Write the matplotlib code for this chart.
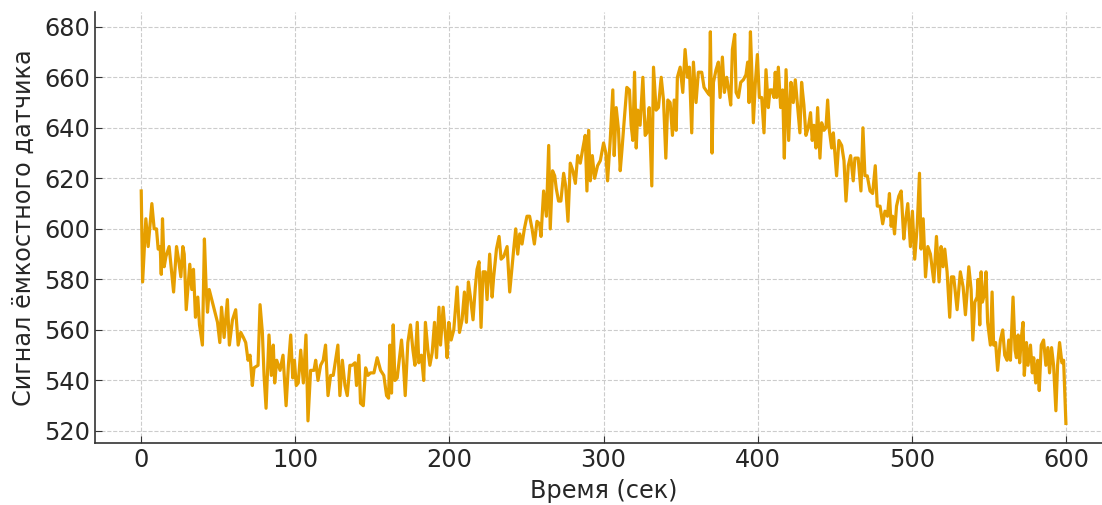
import matplotlib
matplotlib.use("Agg")
import matplotlib.pyplot as plt

# время (сек) и сигнал
time_sec = [
    0.0, 0.9, 3.0, 4.5, 6.9, 8.4, 9.9, 11.0, 12.3, 13.0, 13.8, 14.9, 16.0, 18.1,
    21.0, 22.9, 24.2, 25.7, 27.0, 27.9, 29.2, 31.5, 32.8, 33.9, 35.2, 36.7, 37.8,
    39.7, 41.0, 42.1, 43.0, 44.1, 46.2, 49.5, 51.0, 52.1, 53.8, 55.9, 57.2, 59.2,
    61.3, 62.9, 64.6, 66.3, 67.8, 69.3, 70.6, 72.1, 73.2, 75.8, 77.1, 78.6, 79.7,
    81.0, 82.9, 84.4, 85.7, 86.6, 87.9, 90.1, 92.0, 94.0, 95.5, 97.0, 98.3, 99.4,
    100.6, 101.9, 103.5, 105.2, 106.9, 108.2, 109.9, 112.1, 113.2, 114.7, 116.4,
    118.1, 119.6, 121.2, 122.9, 124.6, 126.1, 127.6, 128.9, 130.5, 132.2, 133.7,
    135.4, 136.9, 138.7, 139.7, 141.2, 142.3, 144.1, 145.6, 147.1, 148.8, 151.0,
    153.1, 155.3, 157.4, 159.2, 160.5, 161.3, 162.4, 163.5, 164.6, 166.1, 167.4,
    168.9, 170.0, 171.3, 173.0, 174.7, 176.3, 177.6, 179.1, 180.1, 181.8, 183.3,
    184.4, 186.0, 187.3, 188.8, 190.3, 191.6, 193.2, 194.2, 195.9, 197.4, 198.5,
    199.6, 201.1, 202.8, 205.0, 206.5, 208.2, 209.7, 211.0, 212.3, 213.6, 215.3,
    216.8, 217.9, 219.2, 220.5, 221.8, 223.3, 224.4, 226.1, 227.7, 228.7, 230.5,
    232.2, 233.5, 235.2, 237.4, 239.1, 241.7, 243.0, 244.3, 245.6, 247.1, 248.6,
    250.3, 252.0, 253.6, 255.1, 256.8, 258.5, 259.4, 261.1, 262.9, 264.4, 265.4,
    266.9, 268.3, 269.3, 270.8, 272.3, 274.1, 275.4, 276.9, 278.4, 280.1, 281.7,
    283.2, 284.9, 286.6, 288.1, 289.2, 290.3, 291.4, 292.7, 294.2, 296.1, 297.9,
    300.0, 301.5, 302.6, 304.3, 306.0, 306.9, 308.2, 309.7, 310.8, 311.9, 313.4,
    315.1, 316.8, 317.9, 319.0, 320.1, 321.2, 322.2, 323.7, 325.5, 327.0, 328.1,
    329.6, 331.3, 332.4, 334.1, 335.6, 337.4, 338.9, 340.4, 341.7, 343.2, 344.7,
    345.8, 347.1, 347.9, 349.7, 351.4, 352.9, 354.4, 355.7, 357.2, 358.3, 360.0,
    361.5, 362.6, 363.7, 365.2, 367.4, 368.7, 369.3, 370.4, 371.3, 373.0, 374.5,
    375.6, 377.1, 378.4, 379.9, 381.2, 382.5, 383.6, 385.1, 386.0, 387.5, 389.0,
    390.7, 392.4, 393.5, 394.4, 395.3, 396.1, 397.2, 398.5, 399.8, 401.1, 402.6,
    404.1, 405.4, 406.9, 408.0, 409.3, 410.6, 411.4, 412.3, 413.4, 414.9, 416.2,
    417.3, 418.4, 420.1, 421.6, 423.1, 424.4, 425.7, 427.4, 428.5, 430.0, 431.3,
    432.8, 434.3, 435.4, 436.5, 437.8, 438.9, 440.4, 441.5, 443.0, 444.3, 445.4,
    446.5, 448.0, 449.1, 451.2, 452.7, 454.5, 456.0, 457.3, 458.8, 460.3, 462.0,
    463.1, 465.2, 467.0, 468.3, 469.6, 471.1, 472.9, 474.6, 476.3, 477.6, 479.4,
    481.1, 482.6, 484.2, 485.5, 486.6, 487.6, 488.8, 490.1, 491.6, 493.1, 494.8,
    495.9, 497.4, 499.1, 500.4, 501.9, 503.5, 505.0, 506.0, 507.4, 508.9, 510.4,
    512.1, 514.3, 516.0, 517.7, 519.0, 520.3, 521.4, 522.9, 524.6, 525.7, 527.2,
    529.4, 531.5, 533.3, 534.8, 535.9, 537.0, 538.5, 539.6, 540.9, 542.4, 543.0,
    544.1, 545.0, 545.8, 547.1, 548.2, 549.2, 551.0, 552.1, 553.1, 554.4, 555.7,
    557.5, 559.0, 560.3, 561.8, 562.9, 564.0, 565.7, 567.0, 567.9, 569.0, 570.0,
    571.1, 572.2, 573.0, 574.4, 575.4, 577.0, 578.2, 579.1, 580.4, 581.7, 582.7,
    584.0, 585.5, 587.0, 588.3, 589.4, 590.7, 592.0, 593.5, 594.6, 595.9, 597.4,
    598.5, 600.0,
]

signal = [
    615, 579, 604, 593, 610, 600, 600, 592, 593, 582, 604, 585, 589, 593,
    575, 593, 588, 581, 593, 590, 568, 586, 576, 584, 565, 573, 562,
    554, 596, 577, 567, 576, 571, 563, 555, 569, 557, 572, 554, 564,
    568, 554, 559, 557, 555, 548, 550, 538, 545, 546, 570, 559, 542,
    529, 558, 542, 554, 539, 548, 544, 550, 530, 546, 558, 541, 548,
    538, 539, 552, 539, 558, 524, 544, 544, 548, 540, 546,
    548, 554, 534, 542, 542, 548, 554, 534, 548, 538, 534,
    546, 546, 547, 538, 550, 531, 530, 545, 542, 543, 543,
    549, 544, 542, 534, 533, 554, 535, 562, 540, 541, 548,
    556, 548, 534, 555, 562, 552, 546, 563, 547, 550, 540,
    563, 552, 546, 551, 563, 549, 569, 554, 569, 558, 549,
    563, 556, 560, 577, 559, 564, 575, 563, 579, 573, 564,
    577, 584, 587, 561, 583, 583, 572, 590, 573, 581, 592,
    597, 588, 589, 593, 575, 592, 600, 590, 598, 594, 600,
    605, 605, 600, 594, 603, 602, 597, 615, 605, 633, 600,
    623, 621, 616, 611, 611, 622, 617, 603, 626, 623, 618,
    629, 626, 632, 637, 615, 639, 619, 629, 620, 625, 627,
    634, 630, 619, 635, 655, 629, 648, 639, 623, 631, 643,
    656, 655, 641, 635, 662, 632, 647, 641, 660, 637, 638,
    648, 617, 664, 647, 648, 660, 651, 628, 651, 650, 637,
    651, 639, 660, 664, 654, 671, 660, 664, 638, 666, 650,
    662, 662, 662, 656, 654, 653, 678, 630, 658, 663, 666,
    652, 668, 654, 660, 655, 649, 671, 677, 654, 652, 658,
    659, 661, 666, 650, 678, 664, 642, 658, 669, 652, 652,
    638, 663, 648, 655, 655, 652, 662, 652, 664, 648, 655,
    628, 663, 635, 658, 650, 659, 650, 638, 658, 649, 637,
    640, 646, 635, 641, 632, 648, 628, 642, 639, 640, 651,
    639, 632, 638, 621, 635, 633, 627, 611, 625, 629, 619,
    628, 628, 615, 640, 621, 621, 615, 614, 625, 609, 609,
    602, 607, 605, 614, 601, 605, 598, 609, 613, 615, 596,
    603, 610, 593, 607, 588, 601, 622, 592, 604, 581, 593,
    590, 579, 597, 579, 593, 585, 592, 583, 565, 581, 581,
    568, 583, 577, 566, 575, 585, 576, 556, 571, 573, 580,
    562, 583, 571, 574, 583, 563, 554, 575, 554, 555, 544,
    556, 560, 550, 548, 556, 548, 573, 552, 549, 558, 547,
    557, 563, 542, 555, 546, 554, 543, 549, 539, 548, 536,
    554, 556, 546, 553, 543, 553, 546, 528, 546, 555, 547,
    548, 523,
]

line_color = "#E69F00"
text_color = "#262626"
font_size = 17.3

fig = plt.figure(figsize=(11.02, 5.05), dpi=100)
ax = fig.add_axes([0.0862, 0.1228, 0.923, 0.853])

ax.plot(time_sec, signal, color=line_color, linewidth=2.3)

ax.set_xlabel("Время (сек)", fontsize=font_size, color=text_color, labelpad=5)
ax.set_ylabel("Сигнал ёмкостного датчика", fontsize=font_size, color=text_color, labelpad=6)
ax.set_xticks([0, 100, 200, 300, 400, 500, 600])
ax.set_yticks(range(520, 681, 20))

ax.grid(True, linestyle="--", color="#cccccc", linewidth=0.8)
ax.set_axisbelow(True)
ax.spines["top"].set_visible(False)
ax.spines["right"].set_visible(False)
for side in ["left", "bottom"]:
    ax.spines[side].set_color("#333333")
    ax.spines[side].set_linewidth(1.2)
ax.tick_params(direction="in", labelsize=font_size, labelcolor=text_color,
               color="#333333", length=5)

fig.savefig("out.png", dpi=100)
